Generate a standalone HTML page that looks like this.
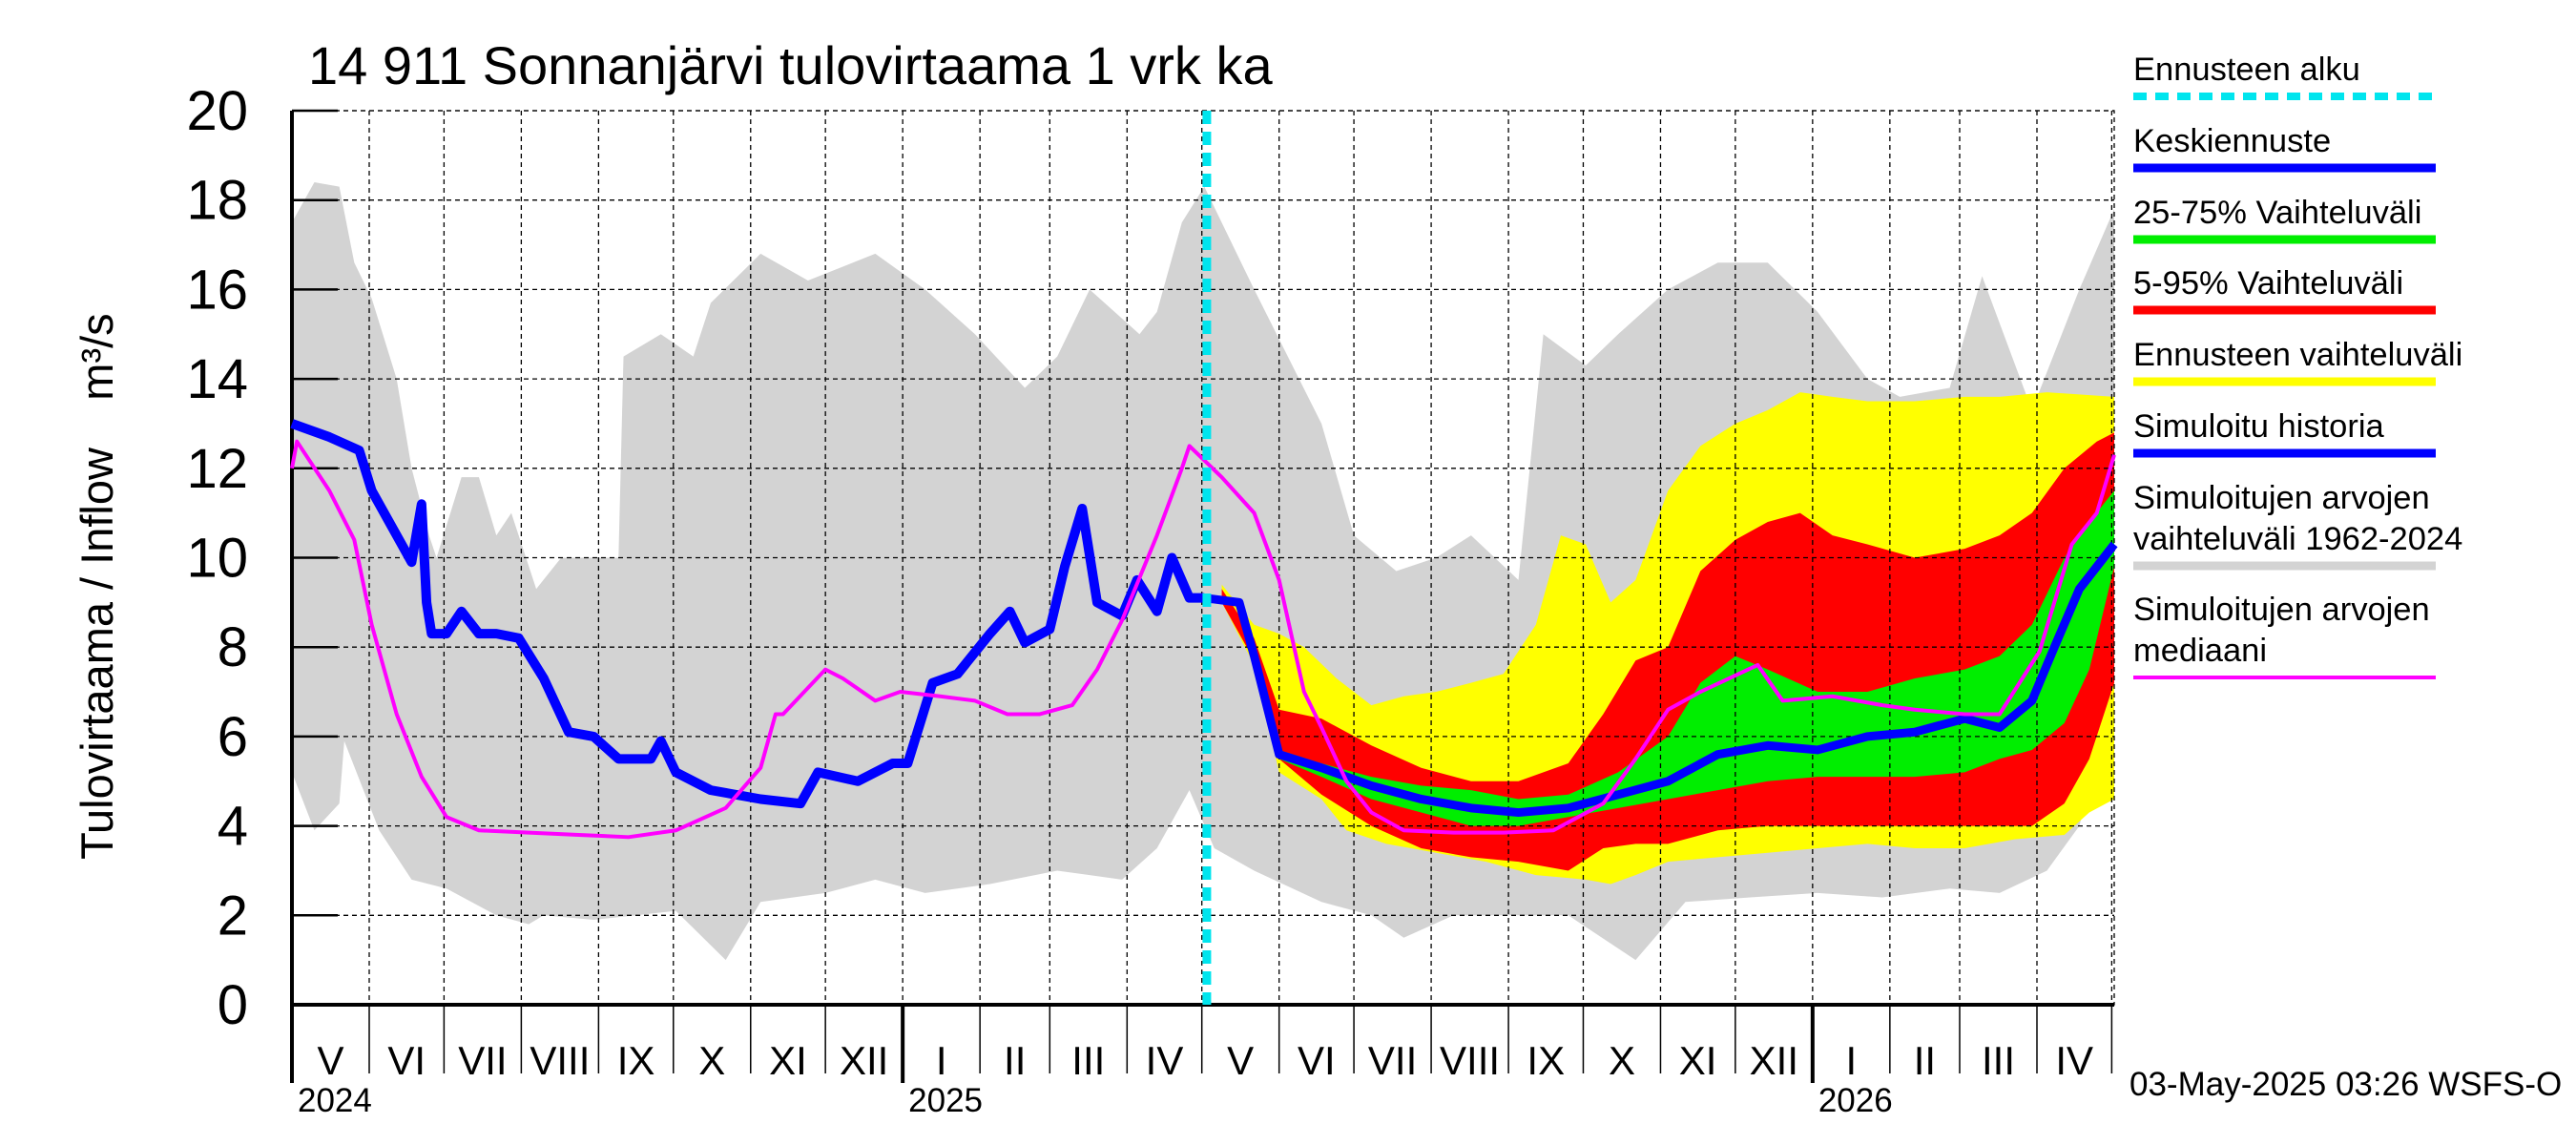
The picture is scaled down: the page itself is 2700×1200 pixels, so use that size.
<!DOCTYPE html>
<html><head><meta charset="utf-8"><style>
html,body{margin:0;padding:0;background:#fff;}
svg{display:block;font-family:"Liberation Sans",sans-serif;}
</style></head><body>
<svg id="chart" width="2700" height="1200" viewBox="0 0 2700 1200" xmlns="http://www.w3.org/2000/svg">
<text x="323" y="88" font-size="56">14 911 Sonnanjärvi tulovirtaama 1 vrk ka</text>
<text transform="translate(118,685) rotate(-90)" text-anchor="middle" font-size="47">Tulovirtaama / Inflow</text>
<text transform="translate(118,374) rotate(-90)" text-anchor="middle" font-size="47">m³/s</text>
<g id="plot"></g>
<g id="legend"></g>
<text x="2232" y="1148" font-size="35">03-May-2025 03:26 WSFS-O</text>
</svg>
<script>
// ---- data (days since 2024-05-01, values m3/s) ----
const grayHiDays=[0,9,19,25,32,42,48,55,58,68,75,82,88,98,108,118,131,133,148,161,168,188,207,234,254,274,294,307,320,340,347,357,366,386,413,426,443,459,473,492,502,519,532,552,572,592,612,632,645,665,678,698,717,731];
const grayHiVals=[17.5,18.4,18.3,16.6,15.8,14,12,10.5,10,11.8,11.8,10.5,11,9.3,10,10,10,14.5,15,14.5,15.7,16.8,16.2,16.8,16,15,13.8,14.5,16,15,15.5,17.5,18.3,16,13,10.5,9.7,10,10.5,9.5,15,14.3,15,16,16.6,16.6,15.5,14,13.6,13.8,16.3,13.3,16,17.8];
const grayLoDays=[0,9,19,21,35,48,62,82,95,101,121,138,154,174,188,214,234,254,280,307,333,347,360,370,386,413,433,446,466,492,512,539,559,585,612,638,665,685,704,717,724,731];
const grayLoVals=[5.2,3.9,4.5,5.9,3.9,2.8,2.6,2.0,1.8,2.0,1.9,2.0,2.1,1.0,2.3,2.5,2.8,2.5,2.7,3.0,2.8,3.5,4.8,3.5,3.0,2.3,2.0,1.5,2.0,2.0,2.0,1.0,2.3,2.4,2.5,2.4,2.6,2.5,3.0,4.0,5.5,5.0];
const histDays=[0,15,27,32,42,48,52,54,56,62,68,75,82,91,101,111,121,131,144,148,154,168,188,204,211,227,241,247,257,267,280,288,294,304,310,317,323,333,339,347,353,360,366];
const histVals=[13.0,12.7,12.4,11.5,10.5,9.9,11.2,9.0,8.3,8.3,8.8,8.3,8.3,8.2,7.3,6.1,6.0,5.5,5.5,5.9,5.2,4.8,4.6,4.5,5.2,5.0,5.4,5.4,7.2,7.4,8.3,8.8,8.1,8.4,9.8,11.1,9.0,8.7,9.5,8.8,10.0,9.1,9.1];
const medDays=[0,2,15,25,32,42,52,62,75,95,115,135,154,174,188,194,197,214,221,234,244,260,274,287,300,313,323,333,347,357,360,373,386,396,406,413,423,433,446,466,486,506,526,539,552,565,588,598,618,638,651,671,685,701,714,724,731];
const medVals=[12.0,12.6,11.5,10.4,8.5,6.5,5.1,4.2,3.9,3.85,3.8,3.75,3.9,4.4,5.3,6.5,6.5,7.5,7.3,6.8,7.0,6.9,6.8,6.5,6.5,6.7,7.5,8.6,10.5,12.0,12.5,11.8,11.0,9.5,7.0,6.2,5.0,4.3,3.9,3.85,3.85,3.9,4.5,5.5,6.6,7.0,7.6,6.8,6.9,6.7,6.6,6.5,6.5,7.9,10.3,11.0,12.3];
const meanDays=[366,380,386,396,413,433,453,473,492,512,532,552,572,592,612,632,651,671,685,698,707,717,731];
const meanVals=[9.1,9.0,7.8,5.6,5.3,4.9,4.6,4.4,4.3,4.4,4.7,5.0,5.6,5.8,5.7,6.0,6.1,6.4,6.2,6.8,8.0,9.3,10.3];
const greenDays=[386,396,413,433,453,473,492,512,532,552,572,592,612,632,651,671,685,698,711,721,731];
const greenLo=[7.8,5.5,5.1,4.6,4.3,4.0,4.0,4.2,4.4,4.6,4.8,5.0,5.1,5.1,5.1,5.2,5.5,5.7,6.3,7.5,9.8];
const greenHiDays=[386,396,413,433,453,473,492,512,532,552,565,579,592,612,632,651,671,685,698,711,721,731];
const greenHi=[7.9,5.7,5.4,5.1,4.9,4.8,4.6,4.7,5.2,6.0,7.2,7.8,7.5,7.0,7.0,7.3,7.5,7.8,8.5,10,10.8,11.5];
const redLoDays=[373,386,396,413,433,453,473,492,512,526,539,552,572,592,612,632,651,671,685,698,711,721,731];
const redLo=[9.0,7.7,5.5,4.7,4.0,3.5,3.3,3.2,3.0,3.5,3.6,3.6,3.9,4.0,4.0,4.0,4.0,4.0,4.0,4.0,4.5,5.5,7.2];
const redHiDays=[373,386,396,413,433,453,473,492,512,526,539,552,565,579,592,605,618,632,651,671,685,698,711,724,731];
const redHi=[9.3,8.2,6.6,6.4,5.8,5.3,5.0,5.0,5.4,6.5,7.7,8.0,9.7,10.4,10.8,11.0,10.5,10.3,10.0,10.2,10.5,11.0,12.0,12.6,12.8];
const yelLoDays=[373,386,396,413,423,439,459,479,499,519,529,539,552,572,592,612,632,651,671,691,711,721,731];
const yelLo=[9.0,7.6,5.2,4.6,3.9,3.6,3.4,3.2,2.9,2.8,2.7,2.9,3.2,3.3,3.4,3.5,3.6,3.5,3.5,3.7,3.8,4.3,4.6];
const yelHiDays=[373,386,396,406,419,433,446,459,473,486,499,509,519,529,539,552,565,579,592,605,618,632,651,671,685,704,731];
const yelHi=[9.4,8.5,8.3,8.0,7.3,6.7,6.9,7.0,7.2,7.4,8.5,10.5,10.3,9.0,9.5,11.5,12.5,13.0,13.3,13.7,13.6,13.5,13.5,13.6,13.6,13.7,13.6];
const monthStarts=[0,31,61,92,123,153,184,214,245,276,304,335,365,396,426,457,488,518,549,579,610,641,669,700,730];
const monthLabels=["V","VI","VII","VIII","IX","X","XI","XII","I","II","III","IV","V","VI","VII","VIII","IX","X","XI","XII","I","II","III","IV"];
const yearStarts=[0,245,610];
const yearLabels=["2024","2025","2026"];
const yTicks=[0,2,4,6,8,10,12,14,16,18,20];
const forecastDay=367;
const totalDays=731;

// ---- axes ----
const X0=306,X1=2216,Y0=1053,Y1=116;
const xs=d=>X0+d*(X1-X0)/totalDays;
const ys=v=>Y0-v*(Y0-Y1)/20;
const NS="http://www.w3.org/2000/svg";
const plot=document.getElementById('plot');
function mk(tag,attrs,parent){const e=document.createElementNS(NS,tag);for(const k in attrs)e.setAttribute(k,attrs[k]);(parent||plot).appendChild(e);return e;}
function band(dHi,vHi,dLo,vLo,color,name){
  let pts=dHi.map((d,i)=>xs(d)+','+ys(vHi[i]));
  for(let i=dLo.length-1;i>=0;i--)pts.push(xs(dLo[i])+','+ys(vLo[i]));
  const p=mk('polygon',{points:pts.join(' '),fill:color});
  
  
}
function line(days,vals,color,w,name){
  const p=mk('polyline',{points:days.map((d,i)=>xs(d)+','+ys(vals[i])).join(' '),fill:'none',stroke:color,'stroke-width':w,'stroke-linejoin':'round'});
  
  
}
band(grayHiDays,grayHiVals,grayLoDays,grayLoVals,'#d3d3d3','historical-range-band');
band(yelHiDays,yelHi,yelLoDays,yelLo,'#ffff00','forecast-range-band');
band(redHiDays,redHi,redLoDays,redLo,'#ff0000','band-5-95');
band(greenHiDays,greenHi,greenDays,greenLo,'#00ee00','band-25-75');
yTicks.forEach(v=>{
  if(v>0){const g=mk('line',{x1:X0,x2:X1,y1:ys(v),y2:ys(v),stroke:'#000','stroke-width':1.3,'stroke-dasharray':'5,4'});
  
  
  const t=mk('line',{x1:X0,x2:X0+48,y1:ys(v),y2:ys(v),stroke:'#000','stroke-width':2.5});
  
  }
  const l=mk('text',{x:X0-46,y:ys(v)+20,'text-anchor':'end','font-size':58});
  l.textContent=v;
  
  
});
monthStarts.forEach((d,i)=>{
  const isYear=yearStarts.includes(d);
  if(d>0){const g=mk('line',{x1:xs(d),x2:xs(d),y1:Y1,y2:Y0,stroke:'#000','stroke-width':1.3,'stroke-dasharray':'5,4'});
  
  }
  if(d<totalDays){const t=mk('line',{x1:xs(d),x2:xs(d),y1:Y0,y2:isYear?1135:1125,stroke:'#000','stroke-width':isYear?4:1.5});
  
  }
  if(i<monthLabels.length){const mid=(d+monthStarts[i+1])/2;
  const l=mk('text',{x:xs(mid),y:1126,'text-anchor':'middle','font-size':42});
  l.textContent=monthLabels[i];
  
  }
});
yearStarts.forEach((d,i)=>{
  const l=mk('text',{x:xs(d)+6,y:1165,'font-size':35});
  l.textContent=yearLabels[i];
  
  
});
const fr=mk('rect',{x:X0,y:Y1,width:X1-X0,height:Y0-Y1,fill:'none',stroke:'#000','stroke-width':1.3,'stroke-dasharray':'5,4'});


const ax=mk('polyline',{points:`${X0},${Y1} ${X0},${Y0} ${X1},${Y0}`,fill:'none',stroke:'#000','stroke-width':4});


line(histDays,histVals,'#0000ff',10,'simulated-history-line');
line(meanDays,meanVals,'#0000ff',9,'mean-forecast-line');
line(medDays,medVals,'#ff00ff',4,'median-line');
const fl=mk('line',{x1:xs(forecastDay),x2:xs(forecastDay),y1:Y1,y2:Y0,stroke:'#00e5ee','stroke-width':9,'stroke-dasharray':'14,8'});



// ---- legend ----
const leg=document.getElementById('legend');
const items=[
 [["Ennusteen alku"],'#00e5ee',8,'14,9',101],
 [["Keskiennuste"],'#0000ff',9,null,176],
 [["25-75% Vaihteluväli"],'#00ee00',9,null,251],
 [["5-95% Vaihteluväli"],'#ff0000',9,null,325],
 [["Ennusteen vaihteluväli"],'#ffff00',9,null,400],
 [["Simuloitu historia"],'#0000ff',9,null,475],
 [["Simuloitujen arvojen","vaihteluväli 1962-2024"],'#d3d3d3',9,null,593],
 [["Simuloitujen arvojen","mediaani"],'#ff00ff',4,null,710]
];
items.forEach(it=>{
  const [lines,col,w,dash,ly]=it;
  const n=lines.length;
  lines.forEach((s,j)=>{
    const t=mk('text',{x:2236,y:ly-17-(n-1-j)*43,'font-size':34.5},leg);
    t.textContent=s;
    
    
  });
  const a={x1:2236,x2:2553,y1:ly,y2:ly,stroke:col,'stroke-width':w};
  if(dash)a['stroke-dasharray']=dash;
  const l=mk('line',a,leg);
  
  
});
</script>
</body></html>
